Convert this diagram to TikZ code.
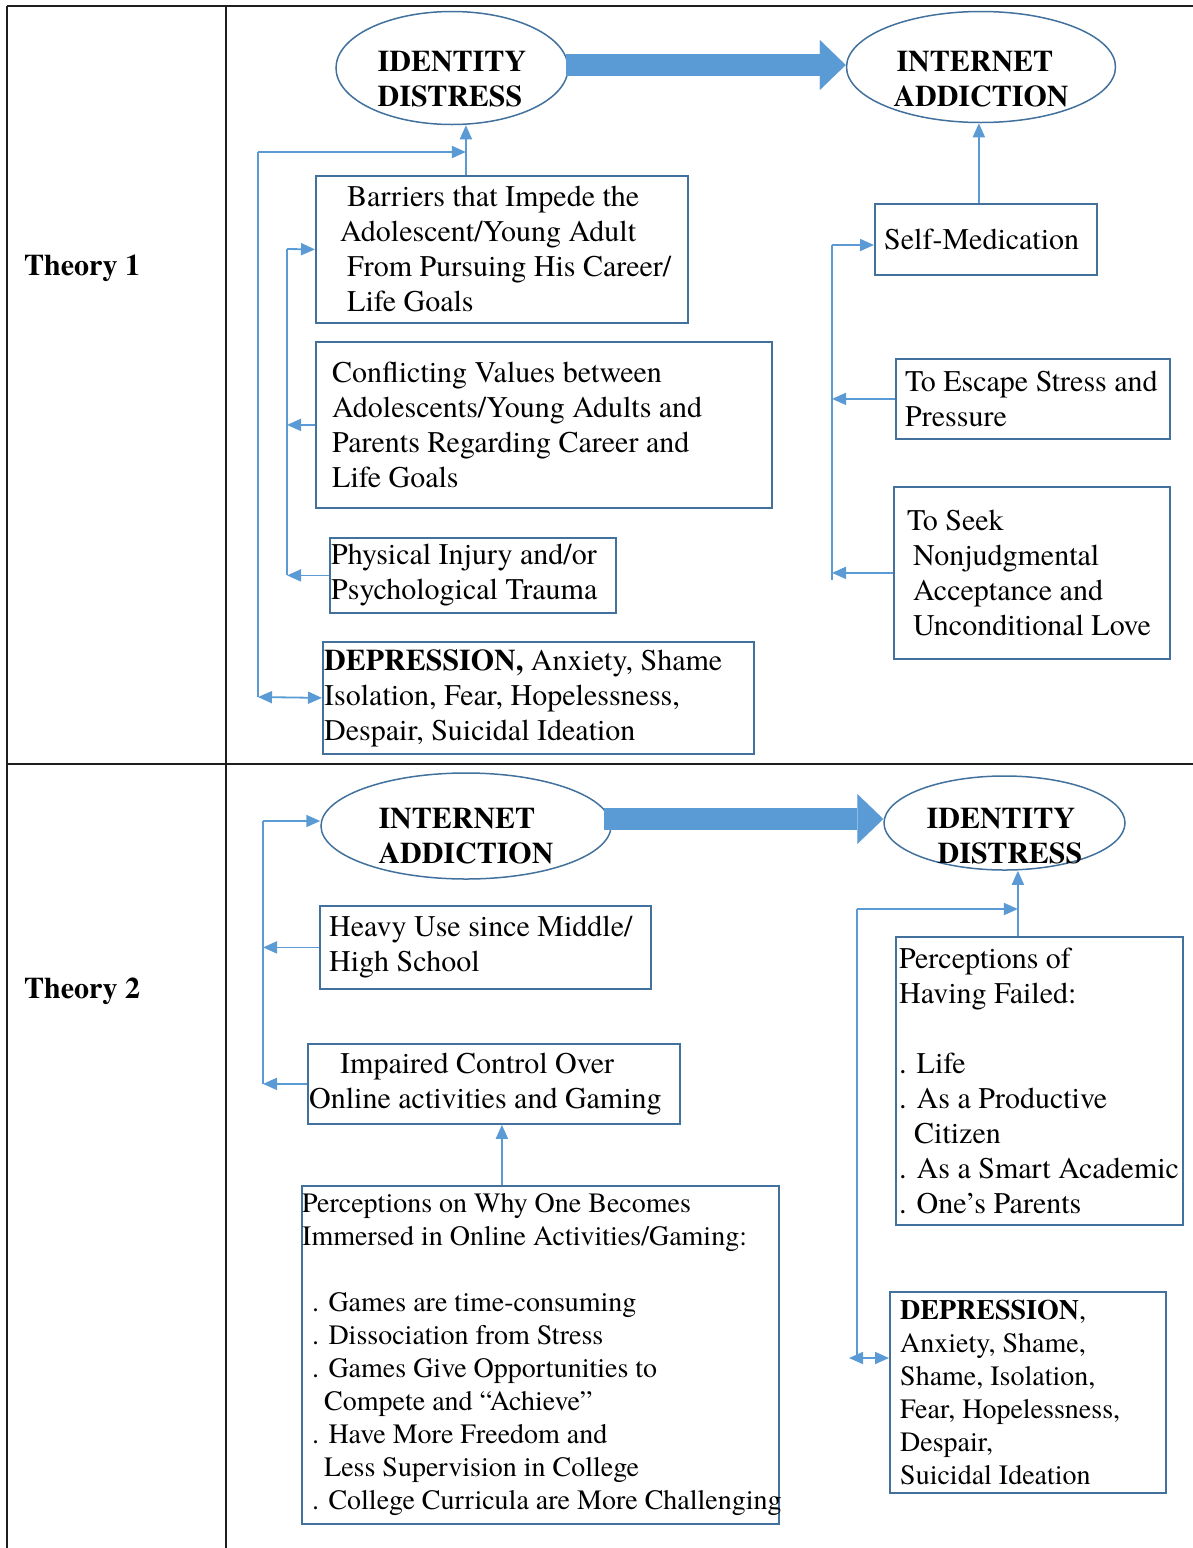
\documentclass[tikz,border=0pt]{standalone}
\usepackage{fontspec}
\setmainfont{texgyretermes}[
    Extension=.otf,
    UprightFont=*-regular,
    BoldFont=*-bold,
    ItalicFont=*-italic,
    BoldItalicFont=*-bolditalic]
\usetikzlibrary{shapes.geometric, arrows.meta, positioning, calc}
\definecolor{boxblue}{HTML}{41719C}
\definecolor{linkblue}{HTML}{5B9BD5}
\definecolor{gridblack}{HTML}{1E1E1E}

\begin{document}
\begin{tikzpicture}[
    x=1pt, y=-1pt,
    % ── Node styles ──────────────────────────────────────────────────────
    gridline/.style={draw=gridblack, line width=2pt},
    theorylabel/.style={
        font=\fontsize{30}{35}\selectfont\bfseries,
        anchor=west, inner sep=0pt
    },
    oval/.style={draw=boxblue, ellipse, line width=1.5pt, inner sep=0pt},
    ovaltext/.style={
        font=\fontsize{30}{35}\selectfont\bfseries,
        align=left, inner sep=0pt
    },
    factorbox/.style={
        draw=boxblue, line width=1.8pt,
        anchor=north west, inner sep=0pt
    },
    factortext/.style={
        font=\fontsize{30}{35}\selectfont,
        align=left, inner sep=0pt
    },
    smalltext/.style={factortext, font=\fontsize{28}{33}\selectfont},
    % ── Arrow styles ─────────────────────────────────────────────────────
    link/.style={draw=linkblue, line width=1.8pt},
    arr/.style={link, -{Triangle[length=14pt, width=12pt]}},
    dblarr/.style={link,
        {Triangle[length=14pt, width=12pt]}-{Triangle[length=14pt, width=12pt]}},
    bigarr/.style={
        draw=linkblue, line width=22pt,
        -{Triangle[length=26pt, width=50pt, line width=0.1pt]}
    }
]

\useasboundingbox (0,0) rectangle (1193,1548);

% ═══════════════════════════════════════════════════════════════════════════
% Table frame
% ═══════════════════════════════════════════════════════════════════════════
\draw[gridline] (7,6) -- (1193,6);
\draw[gridline] (7,6) -- (7,1548);
\draw[gridline] (226,6) -- (226,1548);
\draw[gridline] (7,764) -- (1193,764);

\node[theorylabel] (theory1) at (24,268) {Theory 1};
\node[theorylabel] (theory2) at (24,991) {Theory 2};

% ═══════════════════════════════════════════════════════════════════════════
% 1. Theory 1
% ═══════════════════════════════════════════════════════════════════════════
\node[oval, minimum width=232, minimum height=113] (idA) at (452,68) {};
\node[ovaltext] (idAtext) at ([yshift=-11pt]idA.center) {IDENTITY\\DISTRESS};
\node[oval, minimum width=269, minimum height=111] (iaA) at (981,67) {};
\node[ovaltext] (iaAtext) at ([yshift=-12pt]iaA.center) {\hspace*{3pt}INTERNET\\ADDICTION};

\coordinate (bigA) at ([xshift=-3pt, yshift=3pt]idA.east);
\draw[bigarr] (bigA) -- (bigA -| iaA.west);

% Left column of causes
\node[factorbox, minimum width=372, minimum height=147] (barriers) at (315,175) {};
\node[factortext, right=25pt of barriers.west] (barrierstext)
    {\hspace*{7pt}Barriers that Impede the\\Adolescent/Young Adult\\\hspace*{7pt}From Pursuing His Career/\\\hspace*{7pt}Life Goals};

\node[factorbox, minimum width=456, minimum height=166] (conflict) at (315,341) {};
\node[factortext, right=17pt of conflict.west] (conflicttext)
    {Conflicting Values between\\Adolescents/Young Adults and\\Parents Regarding Career and\\Life Goals};

\node[factorbox, minimum width=286, minimum height=75] (physical) at (329,537) {};
\node[factortext, right=2pt of physical.west] (physicaltext)
    {Physical Injury and/or\\Psychological Trauma};

\node[factorbox, minimum width=431, minimum height=112] (depA) at (322,641) {};
\node[factortext, right=2pt of depA.west] (depAtext)
    {\textbf{DEPRESSION,} Anxiety, Shame\\Isolation, Fear, Hopelessness,\\Despair, Suicidal Ideation};

% Right column of causes
\node[factorbox, minimum width=222, minimum height=71] (selfmed) at (874,203) {};
\node[factortext, right=10pt of selfmed.west] (selfmedtext) {Self-Medication};

\node[factorbox, minimum width=274, minimum height=80] (escape) at (895,358) {};
\node[factortext, right=10pt of escape.west] (escapetext)
    {To Escape Stress and\\Pressure};

\node[factorbox, minimum width=276, minimum height=172] (seek) at (893,486) {};
\node[factortext, right=14pt of seek.west] (seektext)
    {To Seek\\\hspace*{6pt}Nonjudgmental\\\hspace*{6pt}Acceptance and\\\hspace*{6pt}Unconditional Love};

% Arrows into identity distress
\coordinate (barup) at ([xshift=-36pt]barriers.north);
\draw[arr] (barup) -- (barup |- idA.south);

\coordinate (outertop) at (258,152);
\coordinate (outerbot) at (258,697);
\draw[link] (outertop) -- (outerbot);
\draw[arr] (outertop) -- (barup |- outertop);
\draw[dblarr] (outerbot) -- (depA.west);

\coordinate (innertop) at (287,249);
\coordinate (innerbot) at (287,575);
\draw[link] (innertop) -- (innerbot);
\draw[arr] (innertop) -- (barriers.west);
\draw[arr] (conflict.west) -- (conflict.west -| innertop);
\draw[arr] (physical.west) -- (physical.west -| innertop);

% Arrows into internet addiction
\coordinate (selfup) at ([xshift=-7pt]selfmed.north);
\draw[arr] (selfup) -- (selfup |- iaA.south);

\coordinate (righttop) at (832,245);
\coordinate (rightbot) at (832,580);
\draw[link] (righttop) -- (rightbot);
\draw[arr] (righttop) -- (righttop -| selfmed.west);
\draw[arr] (escape.west) -- (escape.west -| righttop);
\draw[arr] (seek.west) -- (seek.west -| righttop);

% ═══════════════════════════════════════════════════════════════════════════
% 2. Theory 2
% ═══════════════════════════════════════════════════════════════════════════
\node[oval, minimum width=290, minimum height=106] (iaB) at (466,826) {};
\node[ovaltext] (iaBtext) at ([yshift=-10pt]iaB.center) {INTERNET\\ADDICTION};
\node[oval, minimum width=241, minimum height=94] (idB) at (1004.5,823) {};
\node[ovaltext] (idBtext) at ([yshift=-13pt]idB.center) {IDENTITY\\\hspace*{11pt}DISTRESS};

\coordinate (bigB) at ([xshift=-8pt, yshift=7pt]iaB.east);
\draw[bigarr] (bigB) -- (bigB -| idB.west);

% Left column
\node[factorbox, minimum width=331, minimum height=83] (heavy) at (319,905) {};
\node[factortext, right=10pt of heavy.west] (heavytext)
    {Heavy Use since Middle/\\High School};

\node[factorbox, minimum width=372, minimum height=80] (impaired) at (307,1043) {};
\node[factortext, right=2pt of impaired.west] (impairedtext)
    {\hspace*{31pt}Impaired Control Over\\Online activities and Gaming};

\node[factorbox, minimum width=477, minimum height=338] (percep) at (301,1185) {};
\node[smalltext, right=1pt of percep.west] (perceptext)
    {Perceptions on Why One Becomes\\Immersed in Online Activities/Gaming:\\[33pt]
     \hspace*{10pt}. Games are time-consuming\\
     \hspace*{10pt}. Dissociation from Stress\\
     \hspace*{10pt}. Games Give Opportunities to\\
     \hspace*{22pt}Compete and “Achieve”\\
     \hspace*{10pt}. Have More Freedom and\\
     \hspace*{22pt}Less Supervision in College\\
     \hspace*{10pt}. College Curricula are More Challenging};

% Right column
\node[factorbox, minimum width=287, minimum height=288] (failed) at (895,936) {};
\node[factortext, right=4pt of failed.west] (failedtext)
    {Perceptions of\\Having Failed:\\[35pt]
     . Life\\
     . As a Productive\\
     \hspace*{15pt}Citizen\\
     . As a Smart Academic\\
     . One’s Parents};

\node[factorbox, minimum width=276, minimum height=201] (depB) at (889,1291) {};
\node[smalltext, right=11pt of depB.west] (depBtext)
    {\textbf{DEPRESSION},\\Anxiety, Shame,\\Shame, Isolation,\\Fear, Hopelessness,\\Despair,\\Suicidal Ideation};

% Arrows into internet addiction
\coordinate (lefttop) at (263,821);
\coordinate (leftbot) at (263,1084);
\draw[link] (lefttop) -- (leftbot);
\draw[arr] (lefttop) -- (lefttop -| iaB.west);
\draw[arr] (heavy.west) -- (heavy.west -| lefttop);
\draw[arr] (impaired.west) -- (impaired.west -| lefttop);

\coordinate (percup) at ([xshift=8pt]impaired.south);
\draw[arr] (percup |- percep.north) -- (percup);

% Arrows into identity distress
\coordinate (failup) at ([xshift=-21.5pt]failed.north);
\draw[arr] (failup) -- (failup |- idB.south);

\coordinate (bustop) at (857,909);
\coordinate (busbot) at (857,1358);
\draw[link] (bustop) -- (busbot);
\draw[arr] (bustop) -- (failup |- bustop);
\draw[dblarr] ([xshift=-8pt]busbot) -- (depB.west |- busbot);

\end{tikzpicture}
\end{document}
